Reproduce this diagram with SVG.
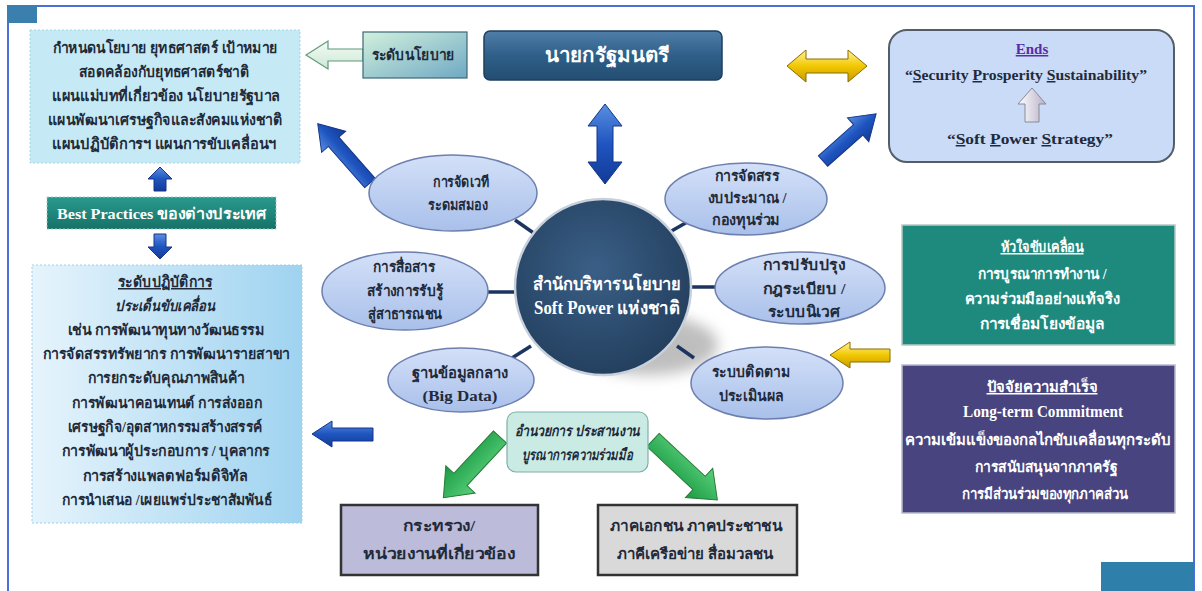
<svg xmlns="http://www.w3.org/2000/svg" width="1202" height="591" viewBox="0 0 1202 591">
<defs>
<style>
.t{font-family:"Liberation Serif","DejaVu Serif","Noto Sans",serif;font-weight:bold;text-anchor:middle;}
.dk{fill:#1f2a3a;font-size:15px;}
.wh{fill:#ffffff;}
.el{fill:url(#gEl);stroke:#6d7fae;stroke-width:1.5;}
.con{stroke:#1c3560;stroke-width:3.5;fill:none;}
.blue{fill:url(#gBlue);stroke:#14358a;stroke-width:1;}
.yel{fill:url(#gYel);stroke:#8a6d00;stroke-width:1;}
.grn{fill:url(#gGrn);stroke:#2a7a3a;stroke-width:1;}
</style>
<linearGradient id="gEl" x1="0" y1="0" x2="0" y2="1"><stop offset="0" stop-color="#d3e0f8"/><stop offset="1" stop-color="#a9c0ea"/></linearGradient>
<linearGradient id="gBlue" x1="0" y1="0" x2="0" y2="1"><stop offset="0" stop-color="#5a8fe0"/><stop offset="0.5" stop-color="#1f55c0"/><stop offset="1" stop-color="#123a96"/></linearGradient>
<linearGradient id="gYel" x1="0" y1="0" x2="0" y2="1"><stop offset="0" stop-color="#fff3a0"/><stop offset="0.5" stop-color="#f2c800"/><stop offset="1" stop-color="#c79a00"/></linearGradient>
<linearGradient id="gGrn" x1="0" y1="0" x2="0" y2="1"><stop offset="0" stop-color="#5ad07a"/><stop offset="1" stop-color="#1a9a44"/></linearGradient>
<linearGradient id="gPM" x1="0" y1="0" x2="0" y2="1"><stop offset="0" stop-color="#4f7fa8"/><stop offset="0.5" stop-color="#2f5f88"/><stop offset="1" stop-color="#244d72"/></linearGradient>
<linearGradient id="gPol" x1="0" y1="0" x2="1" y2="1"><stop offset="0" stop-color="#d2f0dc"/><stop offset="1" stop-color="#6fa9c4"/></linearGradient>
<linearGradient id="gOp" x1="0" y1="0" x2="1" y2="0"><stop offset="0" stop-color="#e6f4fc"/><stop offset="1" stop-color="#9fd3f0"/></linearGradient>
<linearGradient id="gBP" x1="0" y1="0" x2="0" y2="1"><stop offset="0" stop-color="#2a9a8e"/><stop offset="1" stop-color="#167268"/></linearGradient>
<radialGradient id="gC" cx="0.45" cy="0.4" r="0.6"><stop offset="0" stop-color="#3a5f86"/><stop offset="1" stop-color="#24405f"/></radialGradient>
<linearGradient id="gWA" x1="0" y1="0" x2="1" y2="0"><stop offset="0" stop-color="#ffffff"/><stop offset="1" stop-color="#b8b0c8"/></linearGradient>
<linearGradient id="gLA" x1="0" y1="0" x2="0" y2="1"><stop offset="0" stop-color="#f4fbf4"/><stop offset="1" stop-color="#cde8d6"/></linearGradient>
<filter id="sh" x="-30%" y="-30%" width="160%" height="160%"><feGaussianBlur stdDeviation="7"/></filter>
</defs>
<rect width="1202" height="591" fill="#ffffff"/>
<!-- frame -->
<path d="M8,591 V6 H1194 V591" fill="none" stroke="#4a6fd8" stroke-width="2"/>
<rect x="8" y="6" width="29" height="17" fill="#3a7fae"/>
<rect x="1101" y="562" width="93" height="29" fill="#2e7faa"/>
<!-- center shadow -->
<ellipse cx="648" cy="345" rx="70" ry="30" fill="#8a8a8a" opacity="0.55" filter="url(#sh)"/>

<!-- connectors -->
<g id="connectors">
<line class="con" x1="515" y1="220" x2="535" y2="234"/>
<line class="con" x1="487" y1="292" x2="515" y2="292"/>
<line class="con" x1="512" y1="358" x2="531" y2="346"/>
<line class="con" x1="668" y1="233" x2="689" y2="221"/>
<line class="con" x1="692" y1="287" x2="716" y2="287"/>
<line class="con" x1="677" y1="346" x2="694" y2="358"/>
<!-- policy light arrow -->
<path d="M306,55 L328,41 L328,49 L363,49 L363,61 L328,61 L328,69 Z" fill="url(#gLA)" stroke="#5e9a78" stroke-width="1.2"/>
<!-- PM vertical double arrow -->
<path d="M605,104 L622,126 L613,126 L613,162 L622,162 L605,184 L588,162 L597,162 L597,126 L588,126 Z" class="blue"/>
<!-- yellow double -->
<path d="M787,66 L806,50 L806,59 L848,59 L848,50 L867,66 L848,82 L848,73 L806,73 L806,82 Z" class="yel"/>
<!-- blue to policy box -->
<g transform="translate(370,183) rotate(-131.4)"><path d="M0,-7 L55,-7 L55,-16 L79,0 L55,16 L55,7 L0,7 Z" class="blue"/></g>
<!-- blue to Ends -->
<g transform="translate(823,161) rotate(-41.6)"><path d="M0,-7 L47,-7 L47,-16 L71,0 L47,16 L47,7 L0,7 Z" class="blue"/></g>
<!-- small up / down -->
<path d="M160,167 L172,179 L166,179 L166,191 L154,191 L154,179 L148,179 Z" class="blue"/>
<path d="M160,259 L172,247 L166,247 L166,234 L154,234 L154,247 L148,247 Z" class="blue"/>
<!-- left arrow to operations box -->
<path d="M312,434 L332,421 L332,428 L373,428 L373,441 L332,441 L332,447 Z" class="blue"/>
<!-- yellow left -->
<path d="M830,355 L850,342 L850,349 L890,349 L890,362 L850,362 L850,368 Z" class="yel"/>
<!-- green arrows -->
<g transform="translate(500,437) rotate(133)"><path d="M0,-9 L58,-9 L58,-20 L83,0 L58,20 L58,9 L0,9 Z" class="grn"/></g>
<g transform="translate(653,440) rotate(43)"><path d="M0,-9 L63,-9 L63,-20 L88,0 L63,20 L63,9 L0,9 Z" class="grn"/></g>
</g>

<!-- policy text box -->
<g id="policy-box">
<rect x="30" y="30" width="270" height="133" fill="#c6eaf5" stroke="#a8d4e4" stroke-dasharray="2,2"/>
<text class="t dk" x="165" y="53" textLength="225" lengthAdjust="spacingAndGlyphs">กำหนดนโยบาย ยุทธศาสตร์ เป้าหมาย</text>
<text class="t dk" x="164" y="77" textLength="170" lengthAdjust="spacingAndGlyphs">สอดคล้องกับยุทธศาสตร์ชาติ</text>
<text class="t dk" x="166" y="101" textLength="228" lengthAdjust="spacingAndGlyphs">แผนแม่บทที่เกี่ยวข้อง นโยบายรัฐบาล</text>
<text class="t dk" x="165" y="125" textLength="234" lengthAdjust="spacingAndGlyphs">แผนพัฒนาเศรษฐกิจและสังคมแห่งชาติ</text>
<text class="t dk" x="164" y="149" textLength="224" lengthAdjust="spacingAndGlyphs">แผนปฏิบัติการฯ แผนการขับเคลื่อนฯ</text>
</g>

<g id="policy-level">
<rect x="363" y="32" width="104" height="46" fill="url(#gPol)" stroke="#3d6878" stroke-width="1.2"/>
<text class="t dk" x="413" y="60" textLength="83" lengthAdjust="spacingAndGlyphs">ระดับนโยบาย</text>
</g>

<g id="pm">
<rect x="484" y="31" width="238" height="49" rx="6" fill="url(#gPM)" stroke="#1e3f5e" stroke-width="1.5"/>
<text class="t wh" x="607" y="62" font-size="20" textLength="125" lengthAdjust="spacingAndGlyphs">นายกรัฐมนตรี</text>
</g>

<g id="ends">
<rect x="889" y="30" width="285" height="132" rx="18" fill="#c9dbf7" stroke="#555d68" stroke-width="2"/>
<text class="t" x="1032" y="54" font-size="15" fill="#5a2ca8" text-decoration="underline">Ends</text>
<text class="t" x="1026" y="80" font-size="15" fill="#1f2a3a" textLength="242" lengthAdjust="spacingAndGlyphs">“<tspan text-decoration="underline">S</tspan>ecurity <tspan text-decoration="underline">P</tspan>rosperity <tspan text-decoration="underline">S</tspan>ustainability”</text>
<path d="M1032,88 L1046,104 L1039,104 L1039,122 L1025,122 L1025,104 L1018,104 Z" fill="url(#gWA)" stroke="#8a8a96" stroke-width="1"/>
<text class="t" x="1030" y="144" font-size="15" fill="#1f2a3a" textLength="166" lengthAdjust="spacingAndGlyphs">“<tspan text-decoration="underline">S</tspan>oft <tspan text-decoration="underline">P</tspan>ower <tspan text-decoration="underline">S</tspan>trategy”</text>
</g>

<g id="best-practices">
<rect x="47" y="197" width="229" height="32" fill="url(#gBP)" stroke="#9ad0c8" stroke-dasharray="2,2"/>
<text class="t wh" x="162" y="219" font-size="15" textLength="210" lengthAdjust="spacingAndGlyphs">Best Practices ของต่างประเทศ</text>
</g>

<g id="operations">
<rect x="32" y="265" width="270" height="258" fill="url(#gOp)" stroke="#9dd0ea" stroke-dasharray="2,2"/>
<text class="t dk" x="165" y="287" text-decoration="underline" textLength="94" lengthAdjust="spacingAndGlyphs">ระดับปฏิบัติการ</text>
<text class="t dk" x="165" y="311" font-style="italic" textLength="100" lengthAdjust="spacingAndGlyphs">ประเด็นขับเคลื่อน</text>
<text class="t dk" x="166" y="335" textLength="197" lengthAdjust="spacingAndGlyphs">เช่น การพัฒนาทุนทางวัฒนธรรม</text>
<text class="t dk" x="166" y="359" textLength="247" lengthAdjust="spacingAndGlyphs">การจัดสรรทรัพยากร การพัฒนารายสาขา</text>
<text class="t dk" x="166" y="383" textLength="157" lengthAdjust="spacingAndGlyphs">การยกระดับคุณภาพสินค้า</text>
<text class="t dk" x="167" y="408" textLength="190" lengthAdjust="spacingAndGlyphs">การพัฒนาคอนเทนต์ การส่งออก</text>
<text class="t dk" x="165" y="432" textLength="195" lengthAdjust="spacingAndGlyphs">เศรษฐกิจ/อุตสาหกรรมสร้างสรรค์</text>
<text class="t dk" x="166" y="456" textLength="208" lengthAdjust="spacingAndGlyphs">การพัฒนาผู้ประกอบการ / บุคลากร</text>
<text class="t dk" x="165" y="481" textLength="165" lengthAdjust="spacingAndGlyphs">การสร้างแพลตฟอร์มดิจิทัล</text>
<text class="t dk" x="167" y="505" textLength="210" lengthAdjust="spacingAndGlyphs">การนำเสนอ /เผยแพร่ประชาสัมพันธ์</text>
</g>

<g id="center">
<circle cx="603" cy="287" r="88" fill="url(#gC)" stroke="#c8d0dc" stroke-width="2.5"/>
<text class="t wh" x="607" y="290" font-size="18" textLength="148" lengthAdjust="spacingAndGlyphs">สำนักบริหารนโยบาย</text>
<text class="t wh" x="607" y="314" font-size="18" textLength="146" lengthAdjust="spacingAndGlyphs">Soft Power แห่งชาติ</text>
</g>

<g id="e-forum">
<ellipse class="el" cx="453" cy="193" rx="84" ry="38"/>
<text class="t dk" x="461" y="187" textLength="56" lengthAdjust="spacingAndGlyphs">การจัดเวที</text>
<text class="t dk" x="458" y="210" textLength="60" lengthAdjust="spacingAndGlyphs">ระดมสมอง</text>
</g>
<g id="e-comm">
<ellipse class="el" cx="405" cy="291" rx="83" ry="39"/>
<text class="t dk" x="404" y="272" textLength="62" lengthAdjust="spacingAndGlyphs">การสื่อสาร</text>
<text class="t dk" x="405" y="296" textLength="76" lengthAdjust="spacingAndGlyphs">สร้างการรับรู้</text>
<text class="t dk" x="405" y="319" textLength="74" lengthAdjust="spacingAndGlyphs">สู่สาธารณชน</text>
</g>
<g id="e-data">
<ellipse class="el" cx="461" cy="380" rx="73" ry="32"/>
<text class="t dk" x="460" y="378" textLength="96" lengthAdjust="spacingAndGlyphs">ฐานข้อมูลกลาง</text>
<text class="t dk" x="460" y="401" textLength="75" lengthAdjust="spacingAndGlyphs">(Big Data)</text>
</g>
<g id="e-budget">
<ellipse class="el" cx="746" cy="199" rx="81" ry="36"/>
<text class="t dk" x="747" y="181" textLength="65" lengthAdjust="spacingAndGlyphs">การจัดสรร</text>
<text class="t dk" x="747" y="203" textLength="79" lengthAdjust="spacingAndGlyphs">งบประมาณ /</text>
<text class="t dk" x="746" y="225" textLength="68" lengthAdjust="spacingAndGlyphs">กองทุนร่วม</text>
</g>
<g id="e-reg">
<ellipse class="el" cx="800" cy="288" rx="85" ry="36"/>
<text class="t dk" x="804" y="270" textLength="82" lengthAdjust="spacingAndGlyphs">การปรับปรุง</text>
<text class="t dk" x="804" y="294" textLength="83" lengthAdjust="spacingAndGlyphs">กฎระเบียบ /</text>
<text class="t dk" x="804" y="317" textLength="72" lengthAdjust="spacingAndGlyphs">ระบบนิเวศ</text>
</g>
<g id="e-monitor">
<ellipse class="el" cx="767" cy="383" rx="76" ry="36"/>
<text class="t dk" x="751" y="377" textLength="78" lengthAdjust="spacingAndGlyphs">ระบบติดตาม</text>
<text class="t dk" x="751" y="401" textLength="65" lengthAdjust="spacingAndGlyphs">ประเมินผล</text>
</g>

<g id="heart">
<rect x="902" y="225" width="273" height="120" fill="#1e8a7e" stroke="#b8c8c4" stroke-width="1.5"/>
<text class="t wh" x="1042" y="252" font-size="15" text-decoration="underline" textLength="83" lengthAdjust="spacingAndGlyphs">หัวใจขับเคลื่อน</text>
<text class="t wh" x="1042" y="279" font-size="15" textLength="129" lengthAdjust="spacingAndGlyphs">การบูรณาการทำงาน /</text>
<text class="t wh" x="1042" y="304" font-size="15" textLength="155" lengthAdjust="spacingAndGlyphs">ความร่วมมืออย่างแท้จริง</text>
<text class="t wh" x="1042" y="329" font-size="15" textLength="125" lengthAdjust="spacingAndGlyphs">การเชื่อมโยงข้อมูล</text>
</g>

<g id="success">
<rect x="902" y="365" width="273" height="148" fill="#48447f" stroke="#b8bccc" stroke-width="1.5"/>
<text class="t wh" x="1042" y="392" font-size="15" text-decoration="underline" textLength="111" lengthAdjust="spacingAndGlyphs">ปัจจัยความสำเร็จ</text>
<text class="t wh" x="1043" y="417" font-size="16" textLength="160" lengthAdjust="spacingAndGlyphs">Long-term Commitment</text>
<text class="t wh" x="1038" y="445" font-size="15" textLength="266" lengthAdjust="spacingAndGlyphs">ความเข้มแข็งของกลไกขับเคลื่อนทุกระดับ</text>
<text class="t wh" x="1046" y="472" font-size="15" textLength="142" lengthAdjust="spacingAndGlyphs">การสนับสนุนจากภาครัฐ</text>
<text class="t wh" x="1045" y="499" font-size="15" textLength="166" lengthAdjust="spacingAndGlyphs">การมีส่วนร่วมของทุกภาคส่วน</text>
</g>

<g id="coord">
<rect x="507" y="412" width="141" height="60" rx="9" fill="#c9ebe4" stroke="#7fb0a8" stroke-width="1.2"/>
<text class="t dk" x="577" y="436" font-style="italic" textLength="125" lengthAdjust="spacingAndGlyphs">อำนวยการ ประสานงาน</text>
<text class="t dk" x="577" y="460" font-style="italic" textLength="111" lengthAdjust="spacingAndGlyphs">บูรณาการความร่วมมือ</text>
</g>

<g id="ministry">
<rect x="341" y="505" width="197" height="70" fill="#bcbbd9" stroke="#333333" stroke-width="2.5"/>
<text class="t dk" x="439" y="531" font-size="17" textLength="72" lengthAdjust="spacingAndGlyphs">กระทรวง/</text>
<text class="t dk" x="439" y="559" font-size="17" textLength="152" lengthAdjust="spacingAndGlyphs">หน่วยงานที่เกี่ยวข้อง</text>
</g>

<g id="private">
<rect x="598" y="505" width="199" height="70" fill="#d9d9d9" stroke="#333333" stroke-width="2.5"/>
<text class="t dk" x="696" y="531" font-size="17" textLength="172" lengthAdjust="spacingAndGlyphs">ภาคเอกชน ภาคประชาชน</text>
<text class="t dk" x="695" y="559" font-size="17" textLength="156" lengthAdjust="spacingAndGlyphs">ภาคีเครือข่าย สื่อมวลชน</text>
</g>
</svg>
